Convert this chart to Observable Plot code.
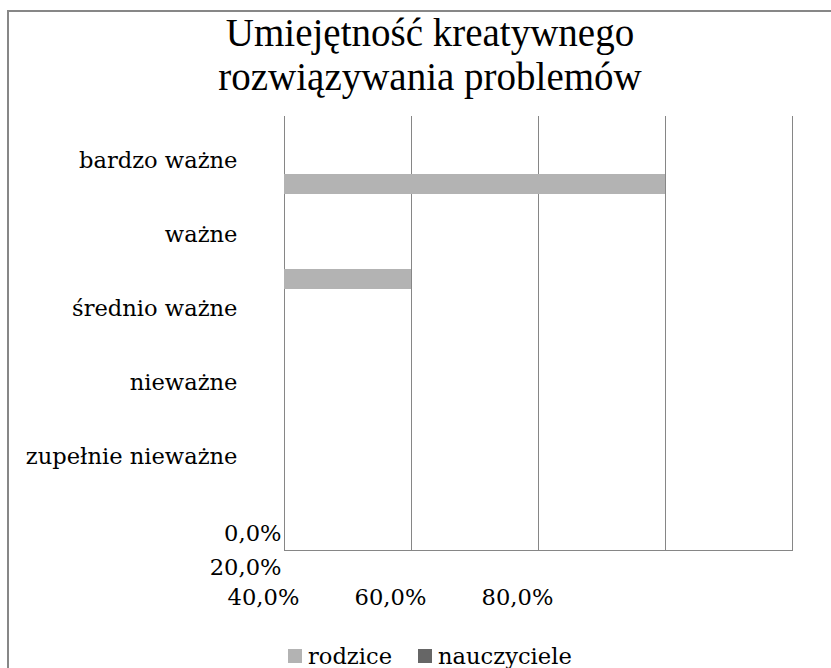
<!DOCTYPE html>
<html>
<head>
<meta charset="utf-8">
<script src="https://cdn.jsdelivr.net/npm/d3@7"></script>
<script src="https://cdn.jsdelivr.net/npm/@observablehq/plot@0.6"></script>
<style>
  body { margin: 0; background: #fff; }
  #wrap { position: relative; width: 831px; height: 668px; overflow: hidden; background: #fff; }
  #border { position: absolute; left: 7px; top: 10px; width: 900px; height: 900px;
            border-left: 2px solid #878787; border-top: 2px solid #878787; }
  #title { position: absolute; left: 0; top: 11px; width: 860px; text-align: center;
           font-family: "Liberation Serif", serif; font-size: 39px; line-height: 44px; color: #000; }
  .layer { position: absolute; left: 0; top: 0; }
  #legend { position: absolute; left: 288px; top: 639px; }
  #legend svg { margin-right: 6px !important; }
  #legend span { margin-right: 26px !important; }
</style>
</head>
<body>
<div id="wrap">
  <div id="border"></div>
  <div id="title">Umiejętność kreatywnego<br>rozwiązywania problemów</div>
  <div id="plotA" class="layer"></div>
  <div id="plotB" class="layer"></div>
  <div id="legend"></div>
</div>
<script>
const categories = ["bardzo ważne", "ważne", "średnio ważne", "nieważne", "zupełnie nieważne"];
const series = ["rodzice", "nauczyciele"];
const rodzice = [0.6, 0.2, 0, 0, 0];
const nauczyciele = [0, 0, 0, 0, 0];
const tickValues = [0, 0.2, 0.4, 0.6, 0.8];
const tickLabels = ["0,0%", "20,0%", "40,0%", "60,0%", "80,0%"];
const colors = ["#b3b3b3", "#666666"];

const table = categories.flatMap((c, i) => [
  {category: c, series: "rodzice", value: rodzice[i]},
  {category: c, series: "nauczyciele", value: nauczyciele[i]}
]);

const font = {fontFamily: "DejaVu Serif", fontSize: "22.6px", color: "#000", background: "transparent", overflow: "visible"};

const chartA = Plot.plot({
  width: 831, height: 668,
  marginLeft: 284, marginRight: 39, marginTop: 116, marginBottom: 118,
  style: font,
  x: {domain: [0, 0.8], axis: null},
  y: {type: "band", domain: categories, range: [136.5, 611.5], paddingInner: 0.79, paddingOuter: 0.395, axis: null},
  color: {domain: series, range: colors},
  marks: [
    Plot.gridX(tickValues, {stroke: "#868686", strokeOpacity: 1}),
    Plot.frame({anchor: "bottom", stroke: "#868686"}),
    Plot.barX(table, {x: "value", y: "category", fill: "series"}),
    Plot.text([tickLabels.slice(0, 2).join("\n")], {frameAnchor: "bottom-left", lineAnchor: "middle", textAnchor: "end", dx: -3, dy: -3, lineHeight: 34 / 22.6, fill: "#000"}),
    Plot.text(tickLabels.slice(2), {x: (d, i) => tickValues[i], frameAnchor: "bottom", lineAnchor: "middle", dx: -21, dy: 47, fill: "#000"})
  ]
});
document.getElementById("plotA").append(chartA);

const chartB = Plot.plot({
  width: 831, height: 668,
  marginLeft: 240, marginRight: 39, marginTop: 116, marginBottom: 118,
  style: font,
  y: {type: "point", domain: categories, range: [159.7, 456], padding: 0},
  marks: [
    Plot.axisY({anchor: "left", tickSize: 0, tickPadding: 3, label: null, fill: "#000"})
  ]
});
document.getElementById("plotB").append(chartB);

const legend = Plot.legend({
  color: {domain: series, range: colors},
  swatchSize: 14,
  style: {fontFamily: "DejaVu Serif", fontSize: "22.6px", color: "#000", margin: "0"}
});
document.getElementById("legend").append(legend);
</script>
</body>
</html>
